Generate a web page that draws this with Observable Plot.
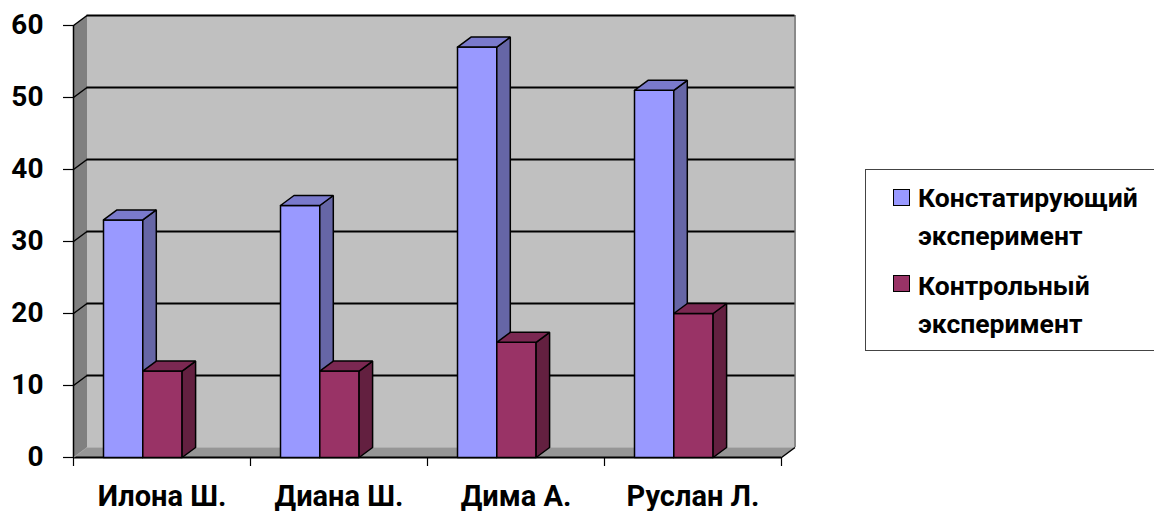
<!DOCTYPE html>
<html>
<head>
<meta charset="utf-8">
<script src="https://cdn.jsdelivr.net/npm/d3@7"></script>
<script src="https://cdn.jsdelivr.net/npm/@observablehq/plot@0.6"></script>
<style>
  html, body { margin: 0; padding: 0; background: #fff; overflow: hidden; }
  #wrap { position: relative; width: 1154px; height: 511px; }
  #legend { position: absolute; left: 865px; top: 169px; width: 320px; height: 180px;
            border: 1px solid #444; background: #fff; font-family: Roboto, sans-serif; font-weight: bold; }
  .sw { position: absolute; left: 27px; width: 15px; height: 15px; border: 1.5px solid #000; }
  .lt { position: absolute; left: 52px; font-size: 26.5px; line-height: 26px; color: #000; white-space: nowrap; }
</style>
</head>
<body>
<div id="wrap"></div>
<script>
// ---- data ----
const categories = ["Илона Ш.", "Диана Ш.", "Дима А.", "Руслан Л."];
const constat = [33, 35, 57, 51];
const control = [12, 12, 16, 20];
const seriesNames = ["Констатирующий эксперимент", "Контрольный эксперимент"];
const yTicks = [0, 10, 20, 30, 40, 50, 60];

// ---- layout ----
const W = 1154, H = 511;
const ML = 73, MR = 373, MT = 25, MB = 54;
const pxX = (W - ML - MR) / categories.length;
const pxY = (H - MT - MB) / 60;
const dX = 13.5 / pxX, dY = 10 / pxY;       // 3D depth in data units
const barW = 39.3 / pxX;
const barOff = [30 / pxX, 30 / pxX + barW];
const N = categories.length;

const colors = [
  {front: "#9999FF", side: "#6666A6", top: "#7A7ACC"},
  {front: "#993366", side: "#632040", top: "#7B2852"}
];

function poly(id, pts) {
  const p = pts.concat([pts[0]]);
  return p.map(([x, y]) => ({id, x, y}));
}

// walls
const backWall = poly("back", [[dX, dY], [N + dX, dY], [N + dX, 60 + dY], [dX, 60 + dY]]);
const sideWall = poly("side", [[0, 0], [0, 60], [dX, 60 + dY], [dX, dY]]);
const floor = poly("floor", [[0, 0], [N, 0], [N + dX, dY], [dX, dY]]);

// bars
function barFaces(values, s) {
  const front = [], side = [], top = [];
  values.forEach((v, i) => {
    const x0 = i + barOff[s], x1 = x0 + barW;
    front.push(...poly(`f${s}${i}`, [[x0, 0], [x1, 0], [x1, v], [x0, v]]));
    side.push(...poly(`s${s}${i}`, [[x1, 0], [x1, v], [x1 + dX, v + dY], [x1 + dX, dY]]));
    top.push(...poly(`t${s}${i}`, [[x0, v], [x1, v], [x1 + dX, v + dY], [x0 + dX, v + dY]]));
  });
  return {front, side, top};
}
const series = [constat, control];

const barMarks = [];
series.forEach((vals, s) => {
  const f = barFaces(vals, s);
  const c = colors[s];
  const common = {x: "x", y: "y", z: "id", stroke: "#000", strokeWidth: 1.5, strokeLinejoin: "miter", curve: "linear"};
  barMarks.push(Plot.line(f.front, {...common, fill: c.front}));
  barMarks.push(Plot.line(f.side, {...common, fill: c.side}));
  barMarks.push(Plot.line(f.top, {...common, fill: c.top}));
});

const gridVals = yTicks.filter(v => v > 0);

const chart = Plot.plot({
  width: W, height: H,
  marginLeft: ML, marginRight: MR, marginTop: MT, marginBottom: MB,
  x: {domain: [0, N], label: null},
  y: {domain: [0, 60], label: null},
  style: {fontFamily: "Roboto, sans-serif", fontWeight: "bold", fontSize: "27px", color: "#000", background: "transparent", overflow: "visible"},
  marks: [
    Plot.line(backWall, {x: "x", y: "y", z: "id", fill: "#C0C0C0", stroke: "none"}),
    Plot.line(sideWall, {x: "x", y: "y", z: "id", fill: "#808080", stroke: "none"}),
    Plot.line(floor, {x: "x", y: "y", z: "id", fill: "#969696", stroke: "none"}),
    // back-wall right edge
    Plot.ruleX([N + dX], {y1: dY, y2: 60 + dY, stroke: "#8A8A8A", strokeWidth: 2}),
    // gridlines on back wall
    Plot.ruleY(gridVals, {y: v => v + dY, x1: dX, x2: N + dX, stroke: "#000", strokeWidth: 2}),
    // gridlines across side wall
    Plot.link(gridVals, {x1: 0, y1: v => v, x2: dX, y2: v => v + dY, stroke: "#000", strokeWidth: 1.5}),
    // floor back edge (light)
    Plot.ruleY([dY], {x1: dX, x2: N + dX, stroke: "#B0B0B0", strokeWidth: 1}),
    // front edges
    Plot.ruleX([0], {y1: 0, y2: 60, stroke: "#000", strokeWidth: 1.5}),
    Plot.ruleY([0], {x1: 0, x2: N, stroke: "#000", strokeWidth: 2}),
    Plot.link([0], {x1: N, y1: 0, x2: N + dX, y2: dY, stroke: "#000", strokeWidth: 1.5}),
    Plot.link([0], {x1: 0, y1: 0, x2: dX, y2: dY, stroke: "#A0A0A0", strokeWidth: 1}),
    ...barMarks,
    Plot.axisY({ticks: yTicks, tickSize: 10, tickPadding: 20, fontSize: 28, fontWeight: "bold", stroke: "#000", strokeWidth: 1.2}),
    Plot.axisX({ticks: d3.range(N + 1), tickSize: 9, tickFormat: () => "", stroke: "#000", strokeWidth: 1.2}),
    Plot.axisX({ticks: d3.range(N).map(i => i + 0.5), tickSize: 0, tickPadding: 28,
                tickFormat: d => categories[Math.floor(d)], fontSize: 29, fontWeight: "bold"})
  ]
});

const wrap = document.getElementById("wrap");
wrap.appendChild(chart);

// legend
const legend = document.createElement("div");
legend.id = "legend";
const legendColors = [colors[0].front, colors[1].front];
const rows = [
  {sw: 19, lines: [{t: seriesNames[0].split(" ")[0], top: 15}, {t: seriesNames[0].split(" ")[1], top: 53}]},
  {sw: 105, lines: [{t: seriesNames[1].split(" ")[0], top: 103}, {t: seriesNames[1].split(" ")[1], top: 141}]}
];
rows.forEach((r, k) => {
  const sw = document.createElement("div");
  sw.className = "sw";
  sw.style.top = r.sw + "px";
  sw.style.background = legendColors[k];
  legend.appendChild(sw);
  r.lines.forEach(l => {
    const d = document.createElement("div");
    d.className = "lt";
    d.style.top = l.top + "px";
    d.textContent = l.t;
    legend.appendChild(d);
  });
});
wrap.appendChild(legend);
</script>
</body>
</html>
